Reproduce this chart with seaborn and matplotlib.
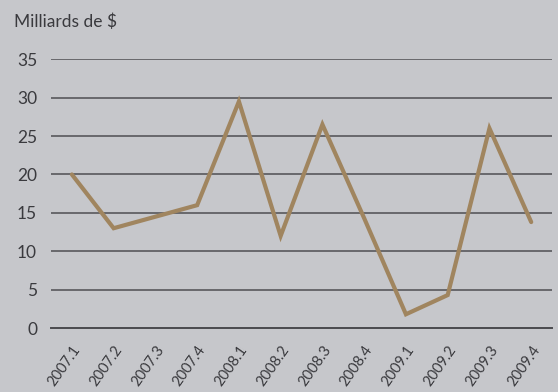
import matplotlib
matplotlib.use("Agg")
import matplotlib.pyplot as plt
import seaborn as sns
import numpy as np
import pandas as pd

quarters = ["2007.1", "2007.2", "2007.3", "2007.4", "2008.1", "2008.2",
            "2008.3", "2008.4", "2009.1", "2009.2", "2009.3", "2009.4"]
values = [20, 13, 14.5, 16, 29.5, 12, 26.5, 14.3, 1.8, 4.3, 26, 13.8]
y_ticks = [0, 5, 10, 15, 20, 25, 30, 35]

bg = "#c6c7cb"
sns.set_style("white")
plt.rcParams["font.family"] = ["Lato", "DejaVu Sans"]

df = pd.DataFrame({"pos": np.arange(len(quarters)), "val": values})

fig = plt.figure(figsize=(5.58, 3.92), dpi=100, facecolor=bg)
ax = fig.add_axes([0.0914, 0.163, 0.898, 0.686])
ax.set_facecolor(bg)

for t in y_ticks[1:]:
    ax.axhline(t, color="#58585c", lw=1.2, zorder=1)

sns.lineplot(data=df, x="pos", y="val", ax=ax, color="#a0855f", lw=3,
             zorder=3, solid_joinstyle="miter")

ax.set_xlim(-0.5, len(quarters) - 0.5)
ax.set_ylim(0, 35)
ax.set_yticks(y_ticks)
ax.set_yticklabels([str(t) for t in y_ticks], fontsize=12.5, color="#3a3a3e")
ax.tick_params(axis="y", length=0, pad=10)

ax.set_xticks(np.arange(len(quarters)))
ax.set_xticklabels(quarters, rotation=55, ha="right", rotation_mode="anchor",
                   fontsize=10.5, color="#3a3a3e")
ax.set_xticks(np.arange(len(quarters) + 1) - 0.5, minor=True)
ax.tick_params(axis="x", which="major", length=0, pad=11)
ax.tick_params(axis="x", which="minor", length=9, width=1.2, color="#4a4a4e",
               direction="out")
ax.set_xlabel("")
ax.set_ylabel("")

for s in ["top", "right", "left"]:
    ax.spines[s].set_visible(False)
ax.spines["bottom"].set_color("#4a4a4e")
ax.spines["bottom"].set_linewidth(1.4)

fig.text(0.025, 0.945, "Milliards de $", fontsize=12.5, color="#3a3a3e",
         ha="left", va="center")

fig.savefig("out.png", dpi=100, facecolor=bg)
